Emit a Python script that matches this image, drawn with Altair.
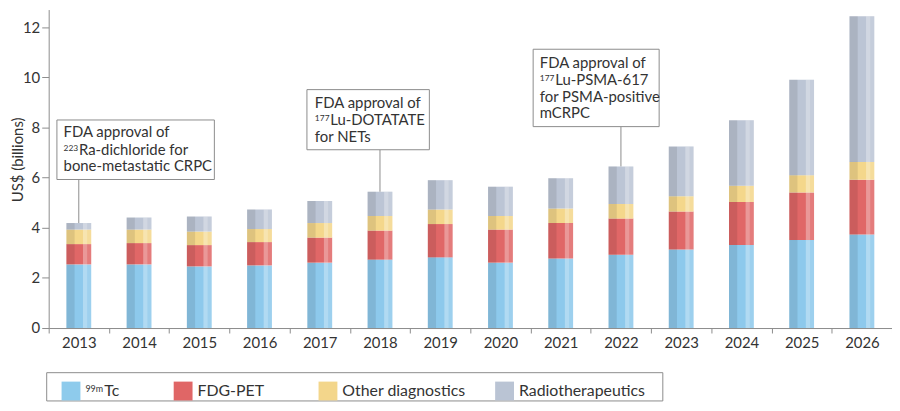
import altair as alt
import pandas as pd

# ---------------- data (US$ billions) ----------------
years = ["2013", "2014", "2015", "2016", "2017", "2018", "2019",
         "2020", "2021", "2022", "2023", "2024", "2025", "2026"]
tc99m = [2.54, 2.54, 2.46, 2.50, 2.61, 2.73, 2.82, 2.61, 2.77, 2.92, 3.13, 3.31, 3.51, 3.73]
fdg_pet = [0.81, 0.85, 0.85, 0.93, 1.00, 1.16, 1.33, 1.32, 1.42, 1.45, 1.52, 1.72, 1.90, 2.19]
other_diagnostics = [0.58, 0.54, 0.54, 0.52, 0.58, 0.58, 0.58, 0.54, 0.58, 0.58, 0.61, 0.65, 0.69, 0.71]
radiotherapeutics = [0.26, 0.48, 0.60, 0.78, 0.88, 0.97, 1.17, 1.17, 1.21, 1.50, 1.98, 2.61, 3.81, 5.81]

series_names = ["99mTc", "FDG-PET", "Other diagnostics", "Radiotherapeutics"]
series_colors = ["#8dc9ec", "#e06767", "#f4d78b", "#bcc5d5"]
legend_colors = ["#8ecbec", "#e06666", "#f3d68b", "#bac4d4"]
y_ticks = [0, 2, 4, 6, 8, 10, 12]

# ---------------- tables ----------------
rows = []
for i, yr in enumerate(years):
    lo = 0.0
    for name, vals in zip(series_names, [tc99m, fdg_pet, other_diagnostics, radiotherapeutics]):
        hi = lo + vals[i]
        rows.append({"year": yr, "series": name, "lo": lo, "hi": hi, "value": vals[i]})
        lo = hi
df = pd.DataFrame(rows)

totals = {yr: tc99m[i] + fdg_pet[i] + other_diagnostics[i] + radiotherapeutics[i]
          for i, yr in enumerate(years)}

# ---------------- style ----------------
W, H = 850, 321
FONT = "Lato"
TXT = "#333333"
GRID = "#8c8c8c"
one = pd.DataFrame({"k": [0]})

x_main = alt.X("year:N", sort=years,
               scale=alt.Scale(paddingInner=0, paddingOuter=0),
               axis=alt.Axis(title=None, labelAngle=0, tickBand="extent", tickSize=5,
                             labelPadding=3, labelFontSize=15, labelFont=FONT,
                             labelColor=TXT, domainColor=GRID, tickColor=GRID))
y_main = alt.Y("lo:Q",
               scale=alt.Scale(domain=[0, 12.71], nice=False, zero=True),
               axis=alt.Axis(values=y_ticks, title="US$ (billions)", tickSize=7,
                             labelPadding=2, labelFontSize=15, labelFont=FONT,
                             labelColor=TXT, domainColor=GRID, tickColor=GRID,
                             titleFont=FONT, titleFontSize=15, titleFontWeight="normal",
                             titleColor=TXT, titleX=-26, titleY=151, titleAngle=270,
                             titleAlign="center", titleBaseline="alphabetic"))

base = alt.Chart(df)
bars = base.mark_bar(size=25).encode(
    x=x_main, y=y_main, y2="hi:Q",
    color=alt.Color("series:N", scale=alt.Scale(domain=series_names, range=series_colors),
                    legend=None))
shade_dark = base.mark_bar(size=8.3, xOffset=-8.35, color="black", opacity=0.09).encode(
    x=alt.X("year:N", sort=years), y="lo:Q", y2="hi:Q")
shade_light = base.mark_bar(size=4.3, xOffset=6.35, color="white", opacity=0.32).encode(
    x=alt.X("year:N", sort=years), y="lo:Q", y2="hi:Q")
shade_right = base.mark_bar(size=4.0, xOffset=10.5, color="white", opacity=0.14).encode(
    x=alt.X("year:N", sort=years), y="lo:Q", y2="hi:Q")

layers = [bars, shade_dark, shade_light, shade_right]


def box(x1, x2, y1, y2):
    return alt.Chart(one).mark_rect(fill="white", stroke=GRID, strokeWidth=1).encode(
        x=alt.value(x1), x2=alt.value(x2), y=alt.value(y1), y2=alt.value(y2))


def txt(s, x, y, size=15):
    return alt.Chart(one).mark_text(align="left", baseline="alphabetic", font=FONT,
                                    fontSize=size, color=TXT).encode(
        x=alt.value(x), y=alt.value(y), text=alt.value(s))


def sup_line(sup, rest, x, y, size=15, sup_size=8.5, gap=15.5):
    return [txt(sup, x, y - 4, sup_size), txt(rest, x + gap, y, size)]


def connector(yr, ybottom):
    d = pd.DataFrame({"year": [yr], "total": [totals[yr]]})
    return alt.Chart(d).mark_rule(color=GRID, strokeWidth=1).encode(
        x=alt.X("year:N", sort=years), y="total:Q", y2=alt.value(ybottom))


# annotation 1: 2013
layers += [connector("2013", 171.3), box(8.3, 167, 111.3, 171.3),
           txt("FDA approval of", 15, 128.7)]
layers += sup_line("223", "Ra-dichloride for", 15, 146.3)
layers += [txt("bone-metastatic CRPC", 15, 163)]
# annotation 2: 2018
layers += [connector("2018", 141.3), box(260.3, 383.7, 80.7, 141.3),
           txt("FDA approval of", 268.3, 99.7)]
layers += sup_line("177", "Lu-DOTATATE", 268.3, 116.7)
layers += [txt("for NETs", 268.3, 133.4)]
# annotation 3: 2022
layers += [connector("2022", 118), box(488.3, 615.3, 40, 118),
           txt("FDA approval of", 495, 59.3)]
layers += sup_line("177", "Lu-PSMA-617", 495, 76.3)
layers += [txt("for PSMA-positive", 495, 93), txt("mCRPC", 495, 109.7)]

# legend
legend_swatch_x = [13, 126, 272, 450]
layers += [box(-2, 619, 366, 394.5)]
for sx, col in zip(legend_swatch_x, legend_colors):
    layers.append(alt.Chart(one).mark_rect(fill=col).encode(
        x=alt.value(sx), x2=alt.value(sx + 19), y=alt.value(375), y2=alt.value(394)))
layers += [txt("99m", legend_swatch_x[0] + 24, 385, 9),
           txt("Tc", legend_swatch_x[0] + 43, 390, 16),
           txt("FDG-PET", legend_swatch_x[1] + 24, 390, 16),
           txt("Other diagnostics", legend_swatch_x[2] + 24, 390, 16),
           txt("Radiotherapeutics", legend_swatch_x[3] + 24, 390, 16)]

chart = alt.layer(*layers).properties(
    width=W, height=H,
    autosize=alt.AutoSizeParams(type="none"),
    padding={"left": 41, "top": 0, "right": 0, "bottom": 74},
).configure_view(stroke=None).configure_axis(grid=False)

chart.save("out.html", embed_options={"renderer": "svg", "actions": False})
